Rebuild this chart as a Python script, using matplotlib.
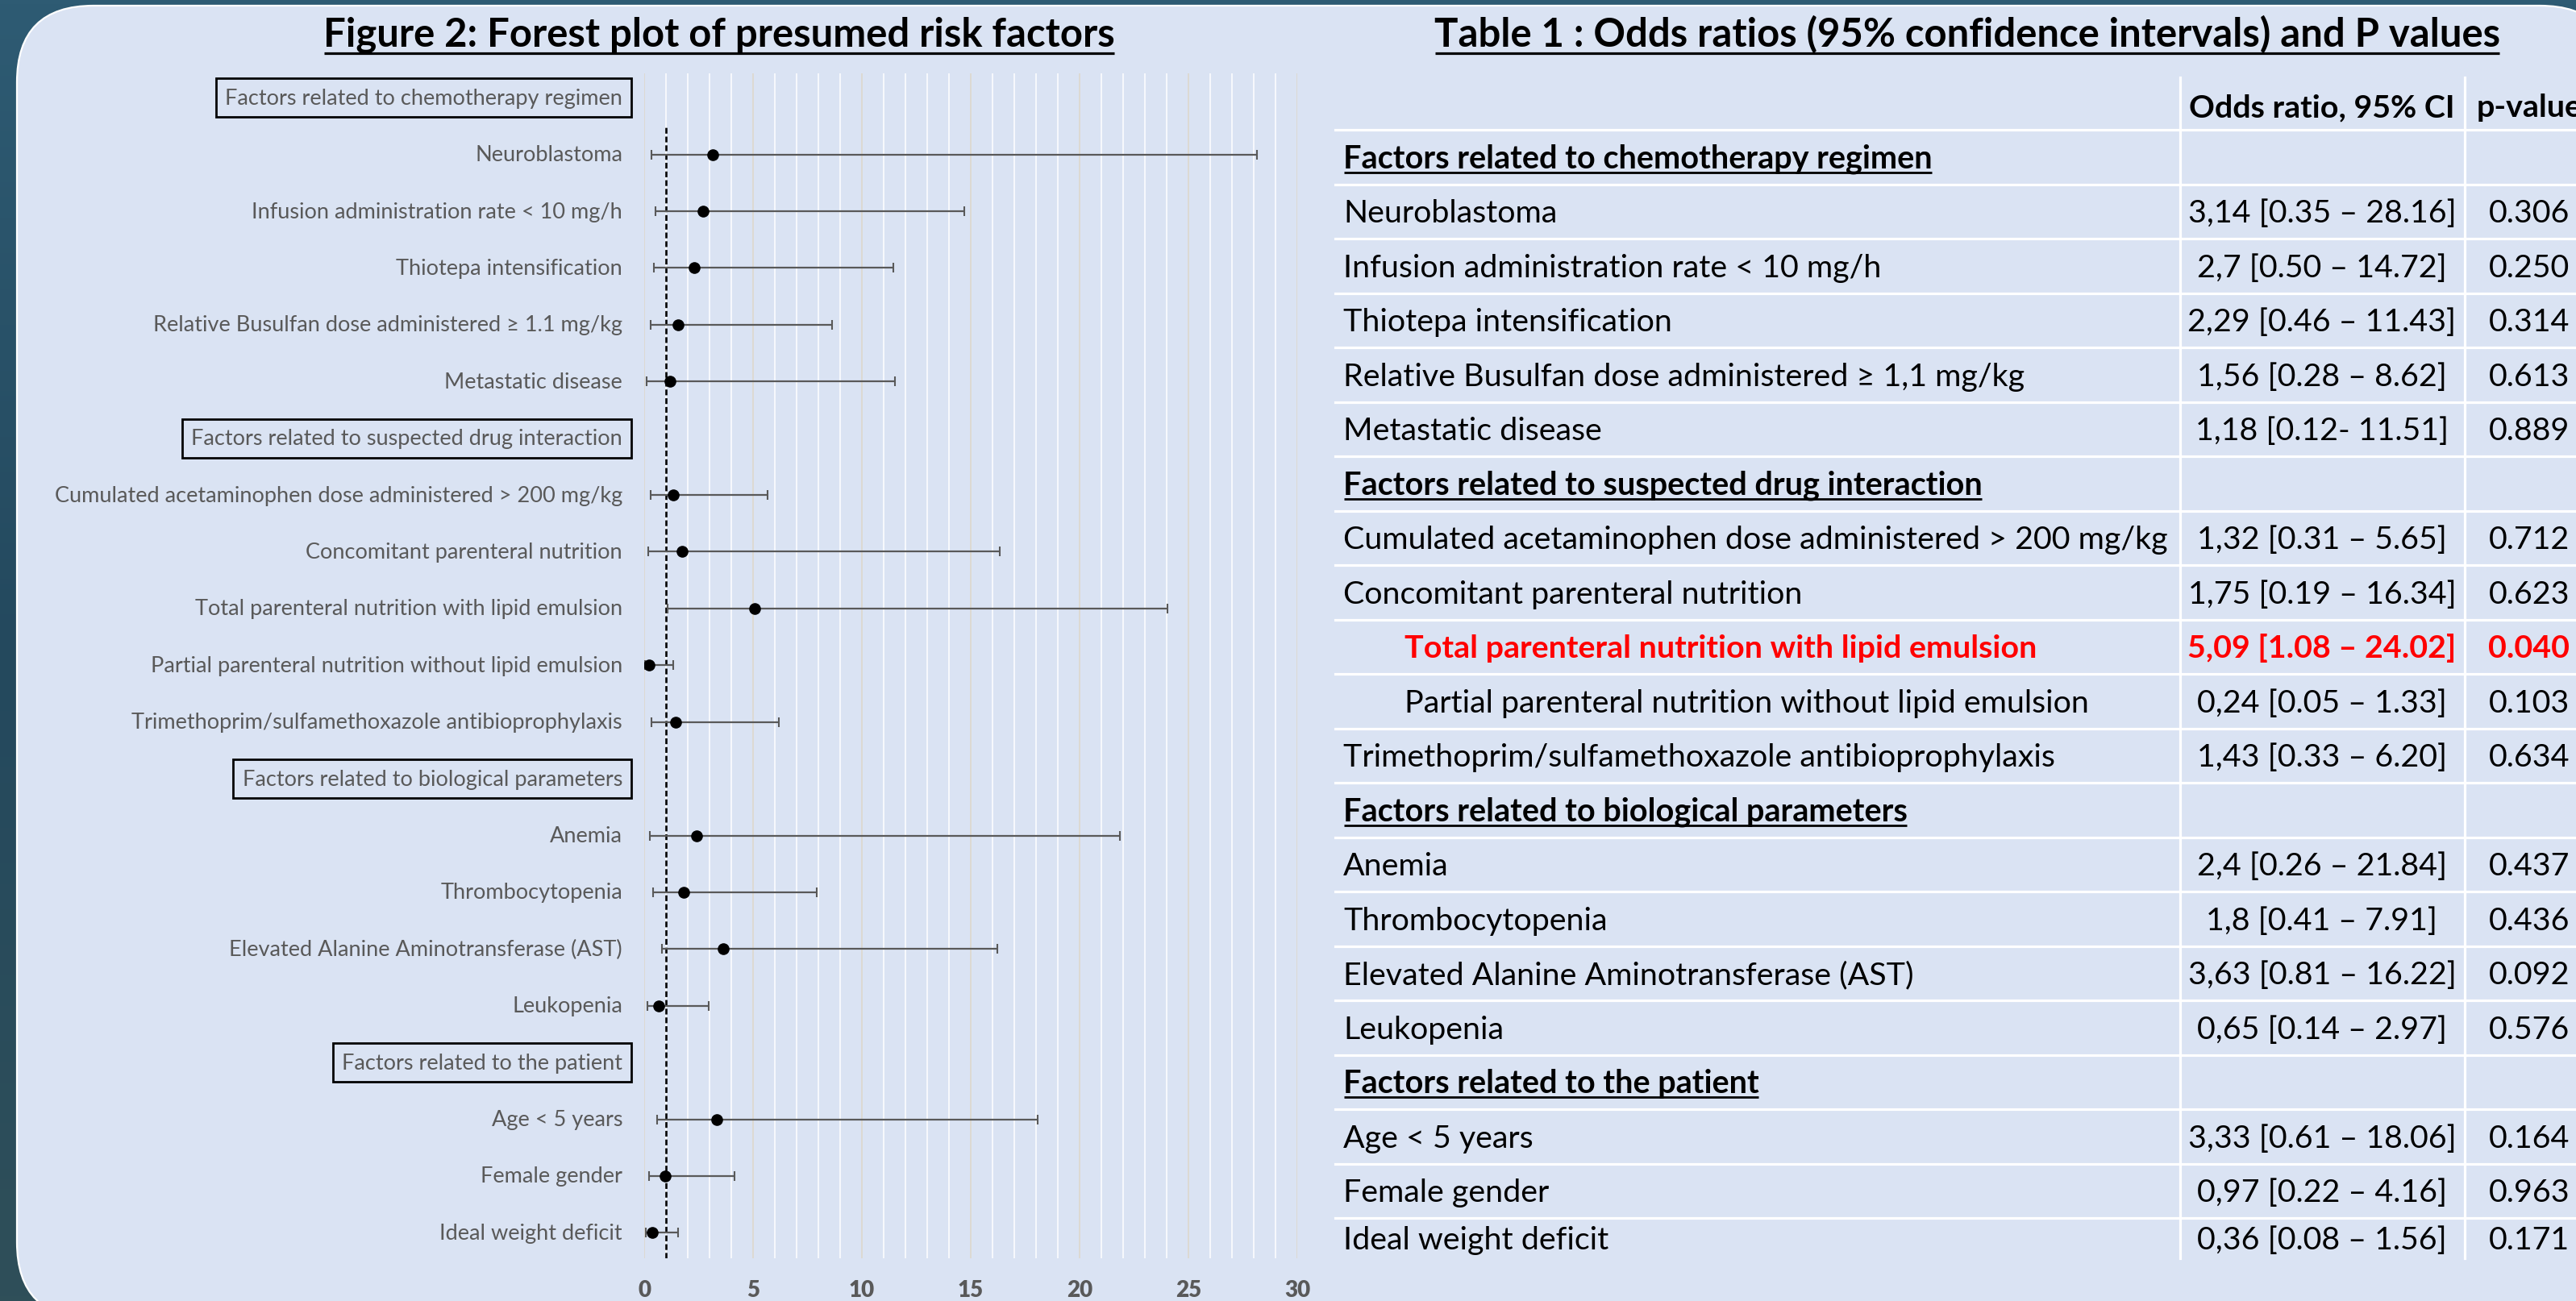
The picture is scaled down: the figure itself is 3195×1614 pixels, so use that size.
import numpy as np
import matplotlib.pyplot as plt
from matplotlib.patches import FancyBboxPatch
from matplotlib.colors import LinearSegmentedColormap

plt.rcParams['font.family'] = ['Lato', 'DejaVu Sans']

# ---------------- data ----------------
groups = ['Factors related to chemotherapy regimen',
          'Factors related to suspected drug interaction',
          'Factors related to biological parameters',
          'Factors related to the patient']
group_sizes = [5, 5, 4, 3]
factors = ['Neuroblastoma',
           'Infusion administration rate < 10 mg/h',
           'Thiotepa intensification',
           'Relative Busulfan dose administered \u2265 1.1 mg/kg',
           'Metastatic disease',
           'Cumulated acetaminophen dose administered > 200 mg/kg',
           'Concomitant parenteral nutrition',
           'Total parenteral nutrition with lipid emulsion',
           'Partial parenteral nutrition without lipid emulsion',
           'Trimethoprim/sulfamethoxazole antibioprophylaxis',
           'Anemia',
           'Thrombocytopenia',
           'Elevated Alanine Aminotransferase (AST)',
           'Leukopenia',
           'Age < 5 years',
           'Female gender',
           'Ideal weight deficit']
odds = [3.14, 2.7, 2.29, 1.56, 1.18, 1.32, 1.75, 5.09, 0.24, 1.43,
        2.4, 1.8, 3.63, 0.65, 3.33, 0.97, 0.36]
ci_low = [0.35, 0.50, 0.46, 0.28, 0.12, 0.31, 0.19, 1.08, 0.05, 0.33,
          0.26, 0.41, 0.81, 0.14, 0.61, 0.22, 0.08]
ci_high = [28.16, 14.72, 11.43, 8.62, 11.51, 5.65, 16.34, 24.02, 1.33, 6.20,
           21.84, 7.91, 16.22, 2.97, 18.06, 4.16, 1.56]
ci_text = ['3,14 [0.35 \u2013 28.16]', '2,7 [0.50 \u2013 14.72]', '2,29 [0.46 \u2013 11.43]',
           '1,56 [0.28 \u2013 8.62]', '1,18 [0.12- 11.51]', '1,32 [0.31 \u2013 5.65]',
           '1,75 [0.19 \u2013 16.34]', '5,09 [1.08 \u2013 24.02]', '0,24 [0.05 \u2013 1.33]',
           '1,43 [0.33 \u2013 6.20]', '2,4 [0.26 \u2013 21.84]', '1,8 [0.41 \u2013 7.91]',
           '3,63 [0.81 \u2013 16.22]', '0,65 [0.14 \u2013 2.97]', '3,33 [0.61 \u2013 18.06]',
           '0,97 [0.22 \u2013 4.16]', '0,36 [0.08 \u2013 1.56]']
p_text = ['0.306', '0.250', '0.314', '0.613', '0.889', '0.712', '0.623', '0.040', '0.103',
          '0.634', '0.437', '0.436', '0.092', '0.576', '0.164', '0.963', '0.171']
indented = ['Total parenteral nutrition with lipid emulsion',
            'Partial parenteral nutrition without lipid emulsion']
highlight = 'Total parenteral nutrition with lipid emulsion'

table_factors = [f.replace('\u2265 1.1', '\u2265 1,1') for f in factors]

# row index of each group header and each factor (same order in plot and table)
group_rows, factor_rows = [], []
r = 0
for n in group_sizes:
    group_rows.append(r)
    factor_rows += list(range(r + 1, r + 1 + n))
    r += n + 1
n_rows = r

# ---------------- figure / background ----------------
W, H = 3195, 1615
fig = plt.figure(figsize=(W / 100, H / 100), dpi=100)
bg = fig.add_axes([0, 0, 1, 1])
grad = np.linspace(0, 1, 256).reshape(-1, 1)
cmap = LinearSegmentedColormap.from_list('bg', ['#2E5B73', '#24495E', '#2F4F59'])
bg.imshow(grad, cmap=cmap, extent=(0, W, H, 0), aspect='auto', zorder=0)
bg.set_xlim(0, W)
bg.set_ylim(H, 0)
bg.axis('off')
panel = FancyBboxPatch((21, 8), 3245 - 21, 1637 - 8,
                       boxstyle='round,pad=0,rounding_size=95',
                       fc='#DAE3F3', ec='white', lw=1.6, zorder=1)
bg.add_patch(panel)

renderer = fig.canvas.get_renderer()


def fit(s, width_px, weight='normal'):
    t = fig.text(0, 0, s, fontsize=20, fontweight=weight)
    w = t.get_window_extent(renderer).width
    t.remove()
    return 20 * width_px / w


def underline(t, y, lw=2.2):
    bb = t.get_window_extent(renderer)
    bg.plot([bb.x0 + 1, bb.x1 - 1], [y, y], color=t.get_color(), lw=lw,
            solid_capstyle='butt', zorder=3)


fs_title = fit('Figure 2: Forest plot of presumed risk factors', 983, 'bold')
fs_lab = fit('Cumulated acetaminophen dose administered > 200 mg/kg', 707)
fs_tab = fit('Cumulated acetaminophen dose administered > 200 mg/kg', 1027)
fs_grp = fit('Factors related to chemotherapy regimen', 731, 'bold')

# ---------------- titles ----------------
t1 = bg.text(892, 58, 'Figure 2: Forest plot of presumed risk factors', ha='center',
             va='baseline', fontsize=fs_title, fontweight='bold', color='black', zorder=3)
t2 = bg.text(2440, 58, 'Table 1 : Odds ratios (95% confidence intervals) and P values',
             ha='center', va='baseline', fontsize=fs_title, fontweight='bold',
             color='black', zorder=3)
underline(t1, 67, 2.3)
underline(t2, 67, 2.3)

# ---------------- forest plot ----------------
ax = fig.add_axes([799 / W, 1 - 1562 / H, 810 / W, (1562 - 92) / H])
ax.set_facecolor('none')
ax.set_xlim(0, 30)
ax.set_ylim(20.45, -0.43)
ax.set_xticks(np.arange(0, 31, 5))
ax.set_xticks(np.arange(0, 31, 1), minor=True)
ax.grid(which='major', axis='x', color='#DDD7C8', lw=1.1)
ax.grid(which='minor', axis='x', color='white', lw=1.1)
ax.set_axisbelow(True)
ax.set_yticks([])
for s in ax.spines.values():
    s.set_visible(False)
ax.tick_params(which='both', length=0)
ax.tick_params(axis='x', pad=19, labelsize=20, labelcolor='#595959')
for t in ax.get_xticklabels():
    t.set_fontweight('heavy')

ax.axvline(1, ymin=0, ymax=1 - (156 - 92) / 1470, color='black', lw=1.9,
           ls=(0, (2.7, 1.4)), zorder=2)
ax.errorbar(odds, factor_rows,
            xerr=[np.subtract(odds, ci_low), np.subtract(ci_high, odds)],
            fmt='o', color='black', ms=9.5, ecolor='#595959', elinewidth=1.6,
            capsize=4, capthick=1.5, zorder=3)

lab_x = -27 / 810
for name, row in zip(factors, factor_rows):
    ax.text(lab_x, row, name, transform=ax.get_yaxis_transform(), ha='right',
            va='center', fontsize=fs_lab, color='#595959')
for name, row in zip(groups, group_rows):
    ax.text(lab_x, row, name, transform=ax.get_yaxis_transform(), ha='right',
            va='center', fontsize=fs_lab, color='#595959',
            bbox=dict(boxstyle='square,pad=0.42', fc='none', ec='black', lw=2))

# ---------------- table ----------------
head_top, row_top, row_h, tab_bottom = 97, 162, 67.5, 1562
x_left, x_text, x_indent = 1656, 1666, 1742
col_lines = [2704, 3057]
x_or, x_p = 2880, 3137

for k in range(n_rows):
    y = row_top + k * row_h
    bg.plot([x_left, W], [y, y], color='white', lw=2.3, zorder=2)
for x in col_lines:
    bg.plot([x, x], [head_top, tab_bottom], color='white', lw=2.3, zorder=2)


def baseline(row):
    top = row_top + row * row_h
    bot = min(top + row_h, tab_bottom)
    return (top + bot) / 2 + 13


bg.text(x_or, 145, 'Odds ratio, 95% CI', ha='center', va='baseline', fontsize=fs_tab,
        fontweight='bold', zorder=3)
bg.text(x_p, 145, 'p-value', ha='center', va='baseline', fontsize=fs_tab,
        fontweight='bold', zorder=3)

for name, row in zip(groups, group_rows):
    yb = baseline(row)
    t = bg.text(x_text, yb, name, ha='left', va='baseline', fontsize=fs_grp,
                fontweight='bold', color='black', zorder=3)
    underline(t, yb + 6, 2.0)

for i, row in enumerate(factor_rows):
    yb = baseline(row)
    name = table_factors[i]
    hot = factors[i] == highlight
    col = '#FF0000' if hot else 'black'
    wt = 'bold' if hot else 'normal'
    x0 = x_indent if factors[i] in indented else x_text
    bg.text(x0, yb, name, ha='left', va='baseline', fontsize=fs_tab, color=col,
            fontweight=wt, zorder=3)
    bg.text(x_or, yb, ci_text[i], ha='center', va='baseline', fontsize=fs_tab,
            color=col, fontweight=wt, zorder=3)
    bg.text(x_p, yb, p_text[i], ha='center', va='baseline', fontsize=fs_tab,
            color=col, fontweight=wt, zorder=3)

fig.savefig('out.png', dpi=100)
